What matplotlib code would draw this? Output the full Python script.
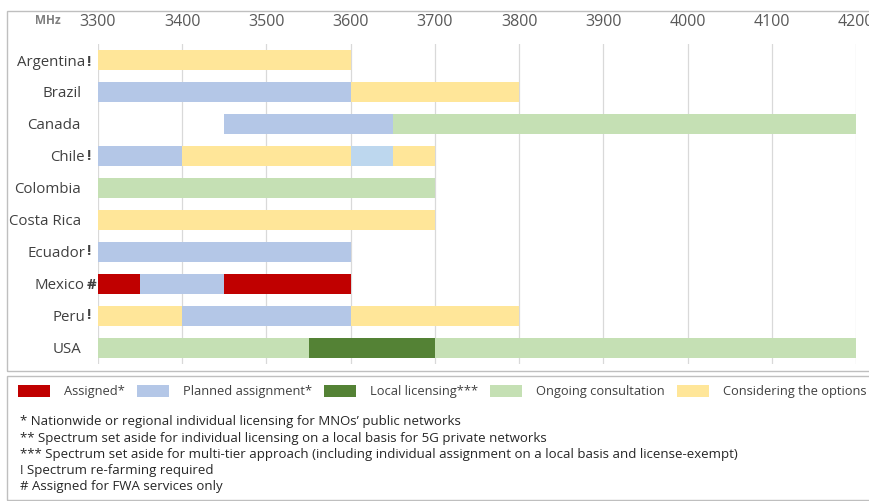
import matplotlib
matplotlib.use("Agg")
import matplotlib.pyplot as plt
from matplotlib.patches import Rectangle

# ---- data -------------------------------------------------------------
countries = ["Argentina", "Brazil", "Canada", "Chile", "Colombia",
             "Costa Rica", "Ecuador", "Mexico", "Peru", "USA"]
country_marks = ["!", "", "", "!", "", "", "!", "#", "!", ""]

# band segments (MHz): row index, start, end, status
seg_row = [0, 1, 1, 2, 2, 3, 3, 3, 3, 4, 5, 6, 7, 7, 7, 8, 8, 8, 9, 9, 9]
seg_start = [3300, 3300, 3600, 3450, 3650, 3300, 3400, 3600, 3650, 3300, 3300,
             3300, 3300, 3350, 3450, 3300, 3400, 3600, 3300, 3550, 3700]
seg_end = [3600, 3600, 3800, 3650, 4200, 3400, 3600, 3650, 3700, 3700, 3700,
           3600, 3350, 3450, 3600, 3400, 3600, 3800, 3550, 3700, 4200]
seg_status = ["options", "planned", "options", "planned", "consult",
              "planned", "options", "planned_alt", "options", "consult", "options",
              "planned", "assigned", "planned", "assigned",
              "options", "planned", "options", "consult", "local", "consult"]

freq_ticks = [3300, 3400, 3500, 3600, 3700, 3800, 3900, 4000, 4100, 4200]

legend_keys = ["assigned", "planned", "local", "consult", "options"]
legend_labels = ["Assigned*", "Planned assignment*", "Local licensing***",
                 "Ongoing consultation", "Considering the options"]

footnotes = [
    "* Nationwide or regional individual licensing for MNOs\u2019 public networks",
    "** Spectrum set aside for individual licensing on a local basis for 5G private networks",
    "*** Spectrum set aside for multi-tier approach (including individual assignment on a local basis and license-exempt)",
    "! Spectrum re-farming required",
    "# Assigned for FWA services only",
]

colors = {
    "assigned": "#C00000",
    "planned": "#B4C7E7",
    "planned_alt": "#BDD7EE",
    "local": "#548235",
    "consult": "#C5E0B4",
    "options": "#FFE699",
}

# ---- figure -----------------------------------------------------------
W, H = 870, 502
plt.rcParams["font.family"] = ["Open Sans", "DejaVu Sans"]
fig = plt.figure(figsize=(W / 100, H / 100), dpi=100)


def fx(px):
    return px / W


def fy(py):
    return 1 - py / H


ax = fig.add_axes([fx(98), fy(365), fx(856) - fx(98), fy(45) - fy(365)])

for r, s, e, st in zip(seg_row, seg_start, seg_end, seg_status):
    ax.barh(r, e - s, left=s, height=0.63, color=colors[st], linewidth=0, zorder=2)

ax.set_xlim(freq_ticks[0], freq_ticks[-1])
ax.set_ylim(len(countries) - 0.5, -0.5)
ax.set_xticks(freq_ticks)
ax.xaxis.tick_top()
ax.tick_params(axis="x", length=0, pad=11, labelsize=11.5, labelcolor="#595959")
ax.set_yticks([])
ax.grid(axis="x", color="#D9D9D9", linewidth=0.9, zorder=0)
for sp in ax.spines.values():
    sp.set_visible(False)

# country names with trailing markers
for i, (name, mark) in enumerate(zip(countries, country_marks)):
    ypx = 62 + i * 31.9
    if mark:
        fig.text(fx(85), fy(ypx), name, ha="right", va="center",
                 fontsize=10.8, color="#404040")
        fig.text(fx(86.5), fy(ypx - (2 if mark == "!" and i else 0)), mark,
                 ha="left", va="center", fontsize=10.8, color="#404040",
                 fontweight="bold")
    else:
        fig.text(fx(81), fy(ypx), name, ha="right", va="center",
                 fontsize=10.8, color="#404040")

fig.text(fx(35), fy(20), "MHz", ha="left", va="center", fontsize=8.5,
         fontweight="bold", color="#7F7F7F")

# outer frames
fig.patches.append(Rectangle((fx(7), fy(372)), fx(880) - fx(7), fy(12) - fy(372),
                             transform=fig.transFigure, fill=False,
                             edgecolor="#BFBFBF", linewidth=1.0))
fig.patches.append(Rectangle((fx(7), fy(501)), fx(880) - fx(7), fy(377) - fy(501),
                             transform=fig.transFigure, fill=False,
                             edgecolor="#BFBFBF", linewidth=1.0))

# legend row
renderer = fig.canvas.get_renderer()
x = 18
for key, lab in zip(legend_keys, legend_labels):
    fig.patches.append(Rectangle((fx(x), fy(398)), fx(32), fy(386) - fy(398),
                                 transform=fig.transFigure,
                                 facecolor=colors[key], edgecolor="none"))
    t = fig.text(fx(x + 46), fy(392), lab, ha="left", va="center",
                 fontsize=9.3, color="#404040")
    bb = t.get_window_extent(renderer=renderer)
    x = bb.x1 + 12

# footnotes
for k, line in enumerate(footnotes):
    fig.text(fx(20), fy(422 + k * 16.2), line, ha="left", va="center",
             fontsize=9.5, color="#262626")

fig.savefig("out.png", dpi=100)
